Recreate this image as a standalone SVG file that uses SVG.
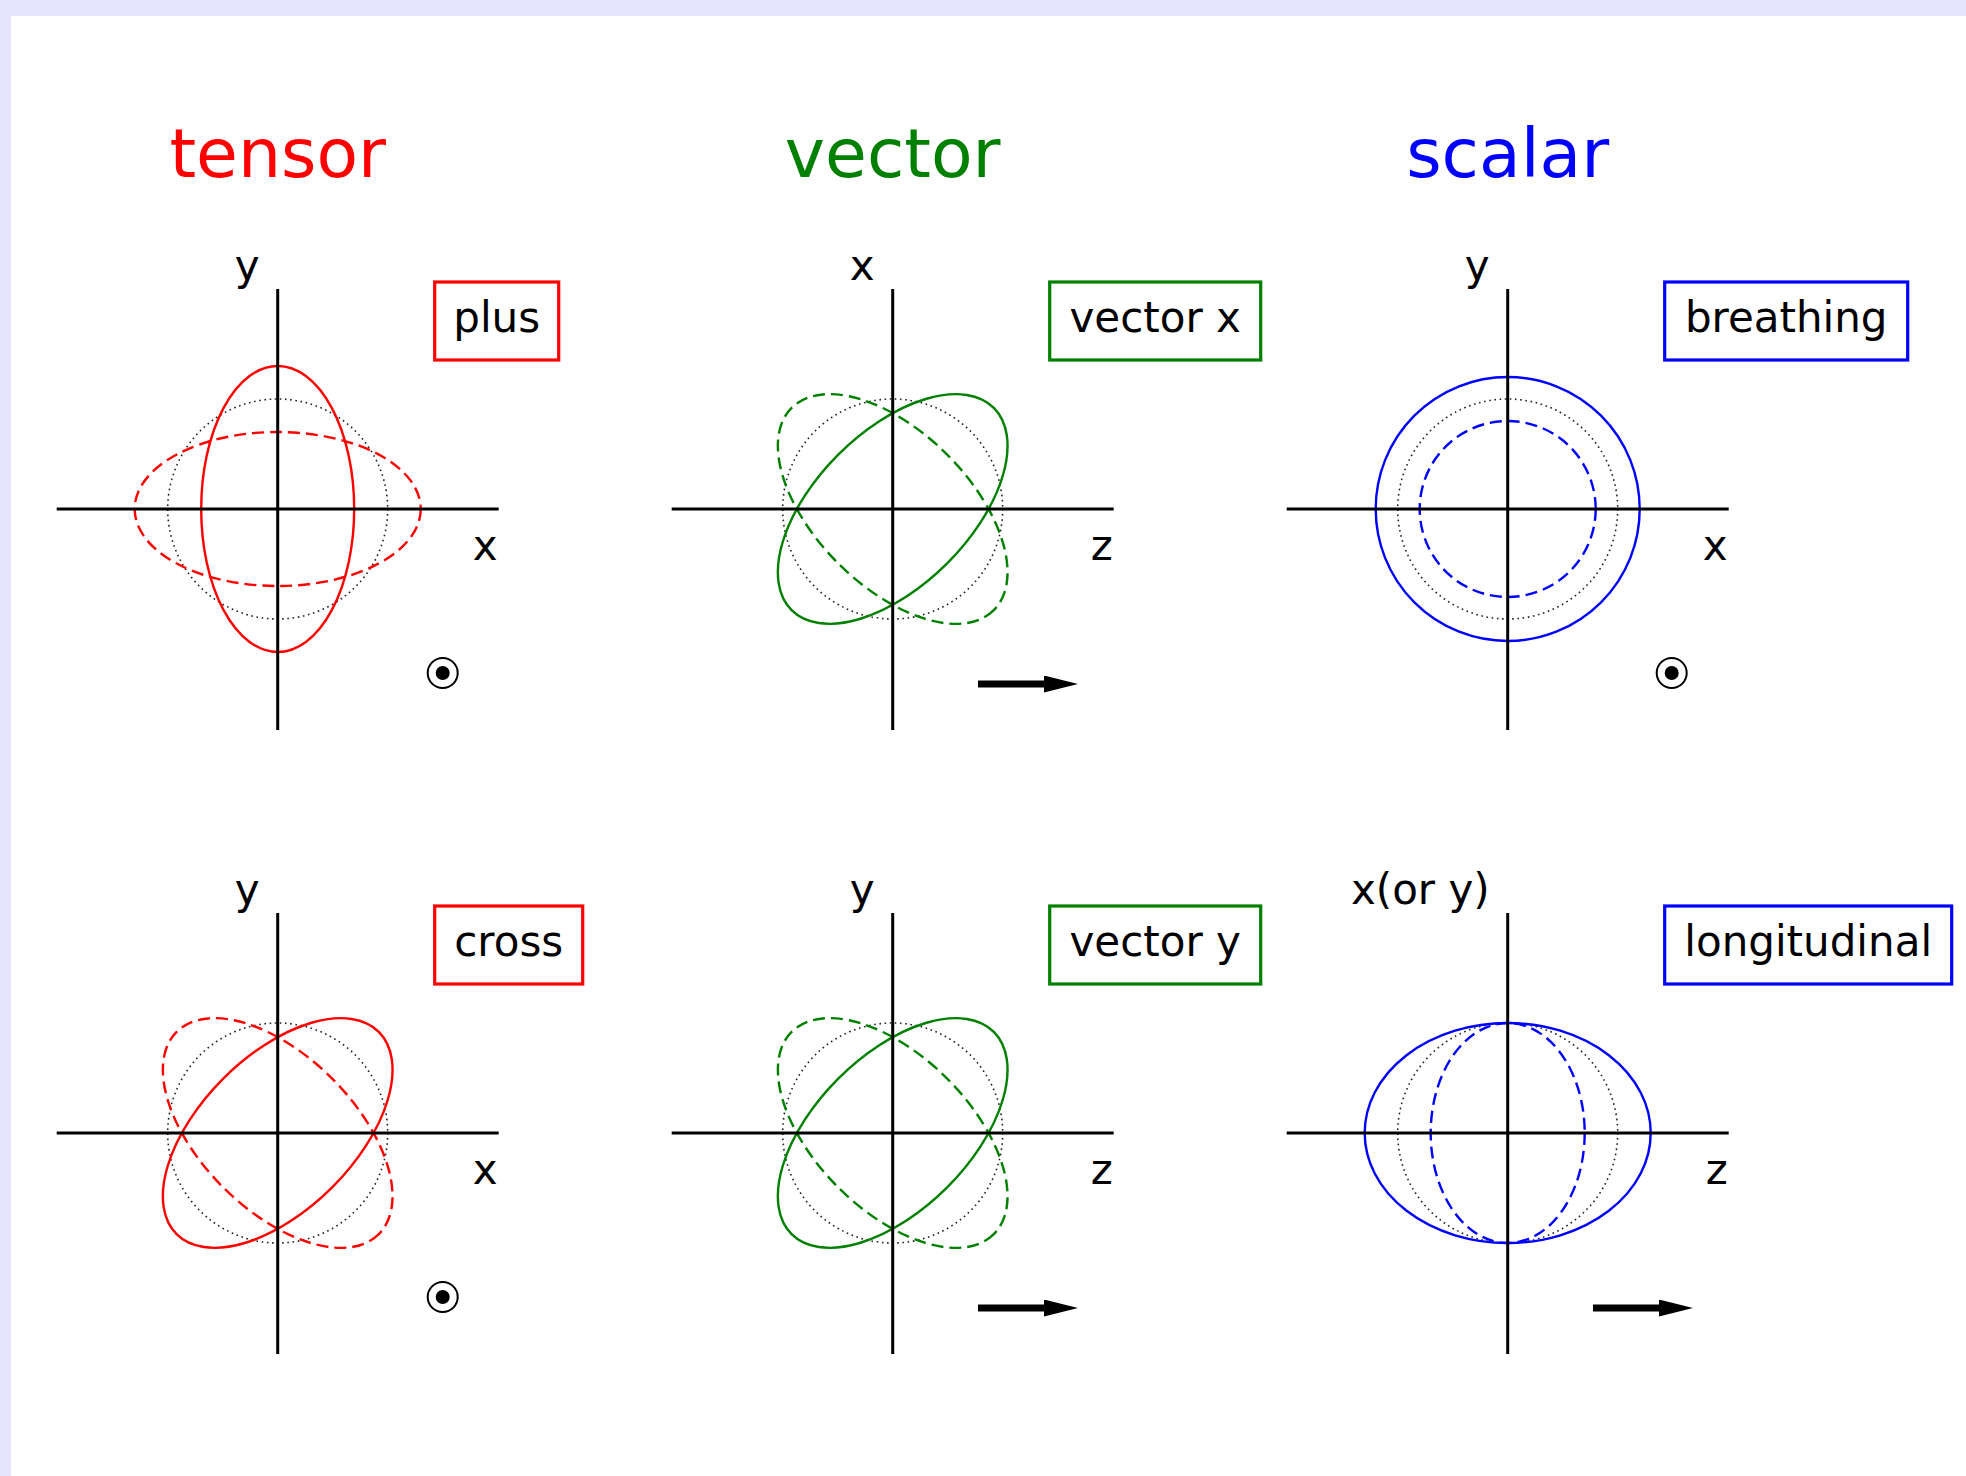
<svg xmlns="http://www.w3.org/2000/svg" width="1966" height="1476" viewBox="0 0 1966 1476">
<style>
text{font-family:"DejaVu Sans","Liberation Sans",sans-serif}
.title{font-size:68px;text-anchor:middle}
.lbl{font-size:42px;fill:#000}
.end{text-anchor:end}
.mid{text-anchor:middle}
.axis{stroke:#000;stroke-width:3;fill:none}
.ref{stroke:#222;stroke-width:1.6;stroke-dasharray:1.6 3.6;fill:none}
.sol{stroke-width:2.4;fill:none}
.dsh{stroke-width:2.4;fill:none;stroke-dasharray:12 6}
.r{stroke:#ff0000}
.g{stroke:#008000}
.b{stroke:#0000ff}
.box{fill:#fff;stroke-width:3.2}
.arrow{stroke:#000;stroke-width:7;marker-end:url(#head)}
</style>
<defs>
<marker id="head" markerUnits="userSpaceOnUse" viewBox="0 0 34 17" markerWidth="34" markerHeight="17" refX="0" refY="8.5" orient="auto">
<path d="M0,0 L34,8.5 L0,17 z" fill="#000"/>
</marker>
<g id="axes">
<line class="axis" x1="-221" y1="0" x2="221" y2="0"/>
<line class="axis" x1="0" y1="-220" x2="0" y2="221"/>
</g>
<g id="dotsym">
<circle r="15" fill="none" stroke="#000" stroke-width="2"/>
<circle r="7" fill="#000"/>
</g>
</defs>
<rect x="0" y="0" width="1966" height="1476" fill="#e5e5ff"/>
<rect x="11" y="16" width="1955" height="1460" fill="#fff"/>

<g id="titles">
<text class="title" x="277.7" y="177" fill="#ff0000">tensor</text>
<text class="title" x="892.7" y="177" fill="#008000">vector</text>
<text class="title" x="1507.7" y="177" fill="#0000ff">scalar</text>
</g>

<g id="panel-plus" transform="translate(277.7,509)">
<circle class="ref" r="110"/>
<ellipse class="dsh r" rx="143" ry="77"/>
<ellipse class="sol r" rx="76.5" ry="143"/>
<use href="#axes"/>
<text class="lbl end" x="-18" y="-229">y</text>
<text class="lbl end" x="220" y="51">x</text>
<rect class="box r" x="157" y="-227" width="124" height="78"/>
<text class="lbl mid" x="219" y="-177">plus</text>
<use href="#dotsym" x="165" y="164"/>
</g>

<g id="panel-cross" transform="translate(277.7,1133)">
<circle class="ref" r="110"/>
<ellipse class="dsh r" rx="143" ry="77" transform="rotate(45)"/>
<ellipse class="sol r" rx="143" ry="77" transform="rotate(-45)"/>
<use href="#axes"/>
<text class="lbl end" x="-18" y="-229">y</text>
<text class="lbl end" x="220" y="51">x</text>
<rect class="box r" x="157" y="-227" width="148" height="78"/>
<text class="lbl mid" x="231" y="-177">cross</text>
<use href="#dotsym" x="165" y="164"/>
</g>

<g id="panel-vector-x" transform="translate(892.7,509)">
<circle class="ref" r="110"/>
<ellipse class="dsh g" rx="143" ry="77" transform="rotate(45)"/>
<ellipse class="sol g" rx="143" ry="77" transform="rotate(-45)"/>
<use href="#axes"/>
<text class="lbl end" x="-18" y="-229">x</text>
<text class="lbl end" x="220" y="51">z</text>
<rect class="box g" x="157" y="-227" width="211" height="78"/>
<text class="lbl mid" x="262.5" y="-177">vector x</text>
</g>

<g id="panel-vector-y" transform="translate(892.7,1133)">
<circle class="ref" r="110"/>
<ellipse class="dsh g" rx="143" ry="77" transform="rotate(45)"/>
<ellipse class="sol g" rx="143" ry="77" transform="rotate(-45)"/>
<use href="#axes"/>
<text class="lbl end" x="-18" y="-229">y</text>
<text class="lbl end" x="220" y="51">z</text>
<rect class="box g" x="157" y="-227" width="211" height="78"/>
<text class="lbl mid" x="262.5" y="-177">vector y</text>
</g>

<g id="panel-breathing" transform="translate(1507.7,509)">
<circle class="ref" r="110"/>
<circle class="dsh b" r="88"/>
<circle class="sol b" r="132"/>
<use href="#axes"/>
<text class="lbl end" x="-18" y="-229">y</text>
<text class="lbl end" x="220" y="51">x</text>
<rect class="box b" x="157" y="-227" width="243" height="78"/>
<text class="lbl mid" x="278.5" y="-177">breathing</text>
<use href="#dotsym" x="164" y="164"/>
</g>

<g id="panel-longitudinal" transform="translate(1507.7,1133)">
<circle class="ref" r="110"/>
<ellipse class="dsh b" rx="77" ry="110"/>
<ellipse class="sol b" rx="143" ry="110"/>
<use href="#axes"/>
<text class="lbl end" x="-18" y="-229">x(or y)</text>
<text class="lbl end" x="220" y="51">z</text>
<rect class="box b" x="157" y="-227" width="287" height="78"/>
<text class="lbl mid" x="300.5" y="-177">longitudinal</text>
</g>

<g id="connectors">
<line class="arrow" x1="978" y1="684" x2="1044" y2="684"/>
<line class="arrow" x1="978" y1="1308" x2="1044" y2="1308"/>
<line class="arrow" x1="1593" y1="1308" x2="1659" y2="1308"/>
</g>
</svg>
